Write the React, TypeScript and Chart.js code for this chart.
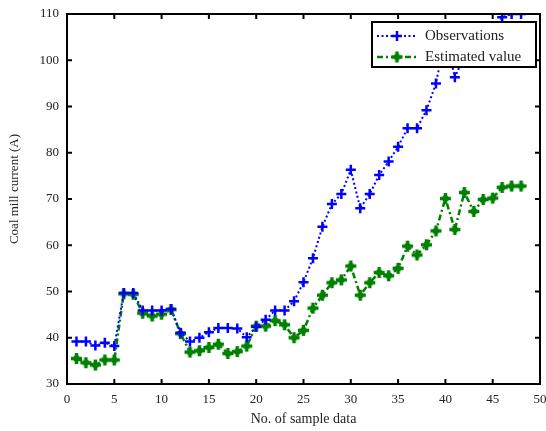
import React, { useEffect, useRef } from 'react';
import { Chart, registerables } from 'chart.js';

Chart.register(...registerables);

const sampleNo = [
  1, 2, 3, 4, 5, 6, 7, 8, 9, 10, 11, 12, 13, 14, 15, 16, 17, 18, 19, 20, 21, 22, 23, 24,
  25, 26, 27, 28, 29, 30, 31, 32, 33, 34, 35, 36, 37, 38, 39, 40, 41, 42, 43, 44, 45, 46, 47, 48,
];

const observations = [
  39.2, 39.2, 38.3, 38.9, 38.2, 49.7, 49.7, 45.9, 45.9, 45.9, 46.2, 41.1,
  39.2, 40.0, 41.2, 42.1, 42.1, 42.0, 40.1, 42.4, 43.9, 45.9, 45.9, 47.9,
  52.0, 57.2, 64.0, 68.9, 71.1, 76.3, 68.0, 71.1, 75.2, 78.1, 81.3, 85.3,
  85.3, 89.2, 95.0, 105.0, 96.3, 101.0, 103.0, 104.0, 106.0, 109.3, 110.0, 110.0,
];

const estimated = [
  35.5, 34.6, 34.1, 35.2, 35.2, 49.5, 49.4, 45.3, 44.7, 45.1, 46.1, 40.9,
  36.9, 37.2, 37.9, 38.6, 36.6, 37.0, 38.2, 42.5, 42.5, 43.7, 42.8, 40.0,
  41.6, 46.4, 49.2, 51.9, 52.5, 55.5, 49.2, 51.9, 54.1, 53.4, 55.0, 59.8,
  57.9, 60.1, 63.1, 70.1, 63.4, 71.4, 67.3, 69.9, 70.2, 72.5, 72.8, 72.8,
];

const xTicks = [0, 5, 10, 15, 20, 25, 30, 35, 40, 45, 50];
const yTicks = [30, 40, 50, 60, 70, 80, 90, 100, 110];

const seriesNames = ['Observations', 'Estimated value'];
const xTitle = 'No. of sample data';
const yTitle = 'Coal mill current (A)';

const BLUE = 'rgb(0,0,255)';
const GREEN = 'rgb(0,128,0)';
const SERIF = '"Liberation Serif", "Times New Roman", serif';

function makeGreenMarker(): HTMLCanvasElement {
  const c = document.createElement('canvas');
  c.width = 13;
  c.height = 13;
  const g = c.getContext('2d')!;
  g.fillStyle = GREEN;
  g.strokeStyle = GREEN;
  g.lineWidth = 3.5;
  g.beginPath();
  g.moveTo(6.5, 1);
  g.lineTo(6.5, 12);
  g.moveTo(1, 6.5);
  g.lineTo(12, 6.5);
  g.stroke();
  g.beginPath();
  g.arc(6.5, 6.5, 3.2, 0, Math.PI * 2);
  g.fill();
  return c;
}

export default function App() {
  const ref = useRef<HTMLCanvasElement | null>(null);

  useEffect(() => {
    const canvas = ref.current;
    if (!canvas) return;
    const greenMarker = makeGreenMarker();

    const framePlugin = {
      id: 'matlabFrame',
      afterDatasetsDraw(chart: any) {
        const { ctx, chartArea: a, scales } = chart;
        ctx.save();
        ctx.strokeStyle = '#000';
        ctx.lineWidth = 2;
        ctx.setLineDash([]);
        ctx.strokeRect(a.left, a.top, a.right - a.left, a.bottom - a.top);
        const L = 5;
        ctx.beginPath();
        xTicks.forEach((v) => {
          const px = scales.x.getPixelForValue(v);
          ctx.moveTo(px, a.bottom);
          ctx.lineTo(px, a.bottom - L);
          ctx.moveTo(px, a.top);
          ctx.lineTo(px, a.top + L);
        });
        yTicks.forEach((v) => {
          const py = scales.y.getPixelForValue(v);
          ctx.moveTo(a.left, py);
          ctx.lineTo(a.left + L, py);
          ctx.moveTo(a.right, py);
          ctx.lineTo(a.right - L, py);
        });
        ctx.stroke();

        // legend box
        const lx = 372, ly = 22, lw = 164, lh = 45;
        ctx.fillStyle = '#fff';
        ctx.fillRect(lx, ly, lw, lh);
        ctx.strokeStyle = '#000';
        ctx.lineWidth = 2;
        ctx.strokeRect(lx, ly, lw, lh);

        const rows = [36, 57];
        ctx.strokeStyle = BLUE;
        ctx.lineWidth = 2;
        ctx.setLineDash([2, 2.5]);
        ctx.beginPath();
        ctx.moveTo(377, rows[0]);
        ctx.lineTo(417, rows[0]);
        ctx.stroke();
        ctx.setLineDash([]);
        ctx.lineWidth = 2.5;
        ctx.beginPath();
        ctx.moveTo(397 - 5, rows[0]);
        ctx.lineTo(397 + 5, rows[0]);
        ctx.moveTo(397, rows[0] - 5);
        ctx.lineTo(397, rows[0] + 5);
        ctx.stroke();
        ctx.strokeStyle = GREEN;
        ctx.lineWidth = 2.5;
        ctx.setLineDash([6, 3, 2, 3]);
        ctx.beginPath();
        ctx.moveTo(377, rows[1]);
        ctx.lineTo(417, rows[1]);
        ctx.stroke();
        ctx.setLineDash([]);
        ctx.drawImage(greenMarker, 397 - 6.5, rows[1] - 6.5);

        ctx.fillStyle = '#222';
        ctx.font = '15px ' + SERIF;
        ctx.textBaseline = 'middle';
        ctx.textAlign = 'left';
        ctx.fillText(seriesNames[0], 425, rows[0]);
        ctx.fillText(seriesNames[1], 425, rows[1]);

        ctx.translate(15, 189);
        ctx.rotate(-Math.PI / 2);
        ctx.textAlign = 'center';
        ctx.font = '13px ' + SERIF;
        ctx.fillText(yTitle, 0, 0);
        ctx.restore();
      },
    };

    const chart = new Chart(canvas, {
      type: 'line',
      data: {
        datasets: [
          {
            label: seriesNames[0],
            data: sampleNo.map((x, i) => ({ x, y: observations[i] })),
            borderColor: BLUE,
            backgroundColor: BLUE,
            borderWidth: 2,
            borderDash: [2, 2.5],
            pointStyle: 'cross',
            pointRadius: 5,
            pointBorderWidth: 2.5,
            pointBorderColor: BLUE,
            tension: 0,
            fill: false,
          },
          {
            label: seriesNames[1],
            data: sampleNo.map((x, i) => ({ x, y: estimated[i] })),
            borderColor: GREEN,
            backgroundColor: GREEN,
            borderWidth: 2.5,
            borderDash: [6, 3, 2, 3],
            pointStyle: greenMarker as any,
            pointRadius: 6,
            tension: 0,
            fill: false,
          },
        ],
      },
      options: {
        animation: false,
        responsive: false,
        maintainAspectRatio: false,
        events: [],
        layout: { autoPadding: false, padding: { left: 0, top: 14, right: 6, bottom: 0 } },
        plugins: {
          legend: { display: false },
          tooltip: { enabled: false },
          title: { display: false },
        },
        scales: {
          x: {
            type: 'linear',
            min: 0,
            max: 50,
            grid: { display: false, drawTicks: false },
            border: { display: false },
            afterBuildTicks: (scale: any) => {
              scale.ticks = xTicks.map((v) => ({ value: v }));
            },
            afterFit: (scale: any) => {
              scale.height = 47;
              scale.paddingLeft = 0;
              scale.paddingRight = 0;
            },
            ticks: {
              padding: 8,
              color: '#222',
              font: { family: SERIF, size: 13 },
              maxRotation: 0,
              autoSkip: false,
            },
            title: {
              display: true,
              text: xTitle,
              color: '#222',
              font: { family: SERIF, size: 14 },
              padding: { top: 0, bottom: 3 },
            },
          },
          y: {
            type: 'linear',
            min: 30,
            max: 110,
            grid: { display: false, drawTicks: false },
            border: { display: false },
            afterBuildTicks: (scale: any) => {
              scale.ticks = yTicks.map((v) => ({ value: v }));
            },
            afterFit: (scale: any) => {
              scale.width = 67;
              scale.paddingTop = 0;
              scale.paddingBottom = 0;
            },
            ticks: {
              padding: 8,
              color: '#222',
              font: { family: SERIF, size: 13 },
              autoSkip: false,
            },
          },
        },
      },
      plugins: [framePlugin],
    } as any);

    return () => chart.destroy();
  }, []);

  return (
    <div style={{ position: 'absolute', left: 0, top: 0, width: 546, height: 431, background: '#fff' }}>
      <canvas ref={ref} width={546} height={431} style={{ width: 546, height: 431, display: 'block' }} />
    </div>
  );
}
